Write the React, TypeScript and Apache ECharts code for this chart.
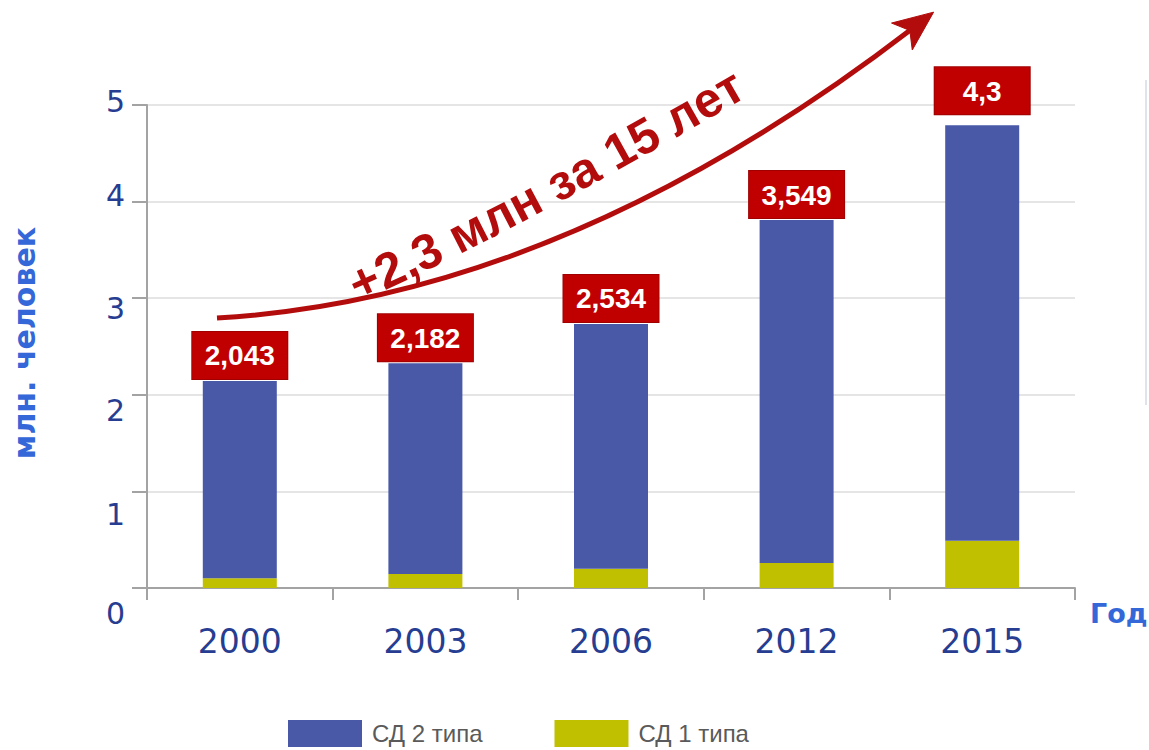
import React, { useEffect, useRef } from 'react';
import * as echarts from 'echarts';

// ---- data ----
const years = ['2000', '2003', '2006', '2012', '2015'];
const type2Values = [2.043, 2.182, 2.534, 3.549, 4.3];
const type1Values = [0.1, 0.145, 0.2, 0.26, 0.49];
const barLabels = ['2,043', '2,182', '2,534', '3,549', '4,3'];
const yTickValues = [0, 1, 2, 3, 4, 5];
const seriesNames = ['СД 2 типа', 'СД 1 типа'];
const annotationText = '+2,3 млн за 15 лет';
const yAxisTitle = 'млн. человек';
const xAxisTitle = 'Год';

// ---- styles ----
const BLUE = '#4959a8';
const YELLOW = '#c0bf00';
const RED = '#c00000';
const ARROW_RED = '#b30c0c';
const LABEL_NAVY = '#263d91';
const TITLE_BLUE = '#3467d8';
// vertical shift (px) of each y tick label relative to its tick, as in the picture
const yLabelShift: Record<number, number> = { 0: 25, 1: 23, 2: 16, 3: 10, 4: -6, 5: -4 };

type P = [number, number];
function qPoint(p0: P, c: P, p2: P, t: number): P {
  const u = 1 - t;
  return [u * u * p0[0] + 2 * u * t * c[0] + t * t * p2[0], u * u * p0[1] + 2 * u * t * c[1] + t * t * p2[1]];
}
function qDeriv(p0: P, c: P, p2: P, t: number): P {
  const u = 1 - t;
  return [2 * u * (c[0] - p0[0]) + 2 * t * (p2[0] - c[0]), 2 * u * (c[1] - p0[1]) + 2 * t * (p2[1] - c[1])];
}

function textOnCurve(text: string, p0: P, c: P, p2: P, color: string): any[] {
  const N = 600;
  const pts: P[] = [];
  const cum: number[] = [0];
  for (let i = 0; i <= N; i++) pts.push(qPoint(p0, c, p2, i / N));
  for (let i = 1; i <= N; i++) {
    cum.push(cum[i - 1] + Math.hypot(pts[i][0] - pts[i - 1][0], pts[i][1] - pts[i - 1][1]));
  }
  const L = cum[N];
  const family = '"Liberation Sans", Arial, sans-serif';
  const canvas = document.createElement('canvas');
  const ctx = canvas.getContext('2d')!;
  ctx.font = `bold 40px ${family}`;
  const chars = Array.from(text);
  const w40 = chars.map((ch) => ctx.measureText(ch).width);
  const total40 = w40.reduce((a, b) => a + b, 0) || 1;
  let fs = (40 * L) / total40;
  fs = Math.max(34, Math.min(50, fs));
  const k = fs / 40;
  const widths = w40.map((w) => w * k);
  const used = widths.reduce((a, b) => a + b, 0);
  let s = (L - used) / 2;
  const out: any[] = [];
  chars.forEach((ch, i) => {
    const mid = s + widths[i] / 2;
    s += widths[i];
    if (ch === ' ') return;
    let j = 0;
    while (j < N && cum[j + 1] < mid) j++;
    const t = Math.min(1, (j + (mid - cum[j]) / Math.max(1e-6, cum[j + 1] - cum[j])) / N);
    const pt = qPoint(p0, c, p2, t);
    const d = qDeriv(p0, c, p2, t);
    const len = Math.hypot(d[0], d[1]);
    const nx = d[1] / len;
    const ny = -d[0] / len;
    const off = 0.35 * fs;
    out.push({
      type: 'text',
      x: pt[0] + nx * off,
      y: pt[1] + ny * off,
      rotation: Math.atan2(-d[1], d[0]),
      style: {
        text: ch,
        fill: color,
        font: `bold ${fs.toFixed(1)}px ${family}`,
        align: 'center',
        verticalAlign: 'middle',
      },
      z: 20,
    });
  });
  return out;
}

export default function App() {
  const ref = useRef<HTMLDivElement>(null);

  useEffect(() => {
    if (!ref.current) return;
    const chart = echarts.init(ref.current, null, { renderer: 'svg' });

    // arrow geometry (decoration)
    const a0: P = [217, 318];
    const aC: P = [562, 298];
    const a2: P = [913, 28];
    const dir = [a2[0] - aC[0], a2[1] - aC[1]];
    const dl = Math.hypot(dir[0], dir[1]);
    const ux = dir[0] / dl;
    const uy = dir[1] / dl;
    const nx = -uy;
    const ny = ux;
    const tip: P = [a2[0] + ux * 26, a2[1] + uy * 26];
    const base: P = [tip[0] - ux * 40, tip[1] - uy * 40];
    const notch: P = [tip[0] - ux * 30, tip[1] - uy * 30];
    const wing1: P = [base[0] + nx * 17, base[1] + ny * 17];
    const wing2: P = [base[0] - nx * 17, base[1] - ny * 17];

    const rich: Record<string, any> = {};
    yTickValues.forEach((v) => {
      const d = yLabelShift[v] || 0;
      rich['v' + v] = {
        fontFamily: '"DejaVu Sans", Verdana, sans-serif',
        fontSize: 30,
        lineHeight: 32,
        color: LABEL_NAVY,
        padding: d >= 0 ? [2 * d, 0, 0, 0] : [0, 0, -2 * d, 0],
      };
    });

    const option: any = {
      animation: false,
      backgroundColor: '#ffffff',
      grid: { left: 147, right: 74, top: 105, bottom: 162, containLabel: false },
      legend: {
        data: seriesNames,
        left: 283,
        top: 715,
        icon: 'rect',
        itemWidth: 74,
        itemHeight: 27,
        itemGap: 72,
        selectedMode: false,
        textStyle: {
          fontFamily: '"Liberation Sans", Arial, sans-serif',
          fontSize: 24,
          lineHeight: 26,
          color: '#5a5a5a',
          padding: [0, 0, 0, 5],
        },
      },
      xAxis: {
        type: 'category',
        data: years,
        axisLine: { show: true, lineStyle: { color: '#a3a3a3', width: 2 } },
        axisTick: { show: true, alignWithLabel: false, length: 12, lineStyle: { color: '#a3a3a3', width: 2 } },
        axisLabel: {
          margin: 37,
          fontFamily: '"DejaVu Sans", Verdana, sans-serif',
          fontSize: 33,
          color: LABEL_NAVY,
        },
        splitLine: { show: false },
      },
      yAxis: {
        type: 'value',
        min: 0,
        max: 5,
        interval: 1,
        axisLine: { show: true, lineStyle: { color: '#a3a3a3', width: 2 } },
        axisTick: { show: true, inside: false, length: 15, lineStyle: { color: '#a3a3a3', width: 2 } },
        axisLabel: {
          margin: 22,
          fontSize: 30,
          formatter: (v: number) => `{v${v}|${v}}`,
          rich,
        },
        splitLine: { show: true, lineStyle: { color: '#dcdcdc', width: 1.5 } },
      },
      series: [
        {
          name: seriesNames[1],
          type: 'bar',
          stack: 'total',
          barWidth: 74,
          itemStyle: { color: YELLOW },
          data: type1Values,
        },
        {
          name: seriesNames[0],
          type: 'bar',
          stack: 'total',
          barWidth: 74,
          itemStyle: { color: BLUE },
          data: type2Values.map((v, i) => ({
            value: v,
            label: { distance: i === type2Values.length - 1 ? 11 : 2 },
          })),
          label: {
            show: true,
            position: 'top',
            formatter: (p: any) => barLabels[p.dataIndex],
            backgroundColor: RED,
            borderColor: '#a00000',
            borderWidth: 1,
            color: '#ffffff',
            fontFamily: '"Liberation Sans", Arial, sans-serif',
            fontWeight: 'bold',
            fontSize: 28,
            lineHeight: 30,
            width: 73,
            align: 'center',
            padding: [9, 11, 8, 11],
          },
        },
      ],
      graphic: [
        {
          type: 'text',
          x: 24,
          y: 343,
          rotation: Math.PI / 2,
          style: {
            text: yAxisTitle,
            fill: TITLE_BLUE,
            font: 'bold 30px "DejaVu Sans", Verdana, sans-serif',
            align: 'center',
            verticalAlign: 'middle',
          },
        },
        {
          type: 'text',
          x: 1090,
          y: 613,
          style: {
            text: xAxisTitle,
            fill: TITLE_BLUE,
            font: 'bold 27px "DejaVu Sans", Verdana, sans-serif',
            align: 'left',
            verticalAlign: 'middle',
          },
        },
        {
          type: 'line',
          shape: { x1: 1146, y1: 80, x2: 1146, y2: 405 },
          style: { stroke: '#dfe3ea', lineWidth: 2 },
        },
        {
          type: 'bezierCurve',
          shape: { x1: a0[0], y1: a0[1], x2: a2[0], y2: a2[1], cpx1: aC[0], cpy1: aC[1] },
          style: { stroke: ARROW_RED, lineWidth: 5, fill: null },
          z: 15,
        },
        {
          type: 'polygon',
          shape: { points: [tip, wing1, notch, wing2] },
          style: { fill: ARROW_RED, stroke: ARROW_RED, lineWidth: 1 },
          z: 15,
        },
        ...textOnCurve(annotationText, [358, 302], [500, 240], [748, 96], ARROW_RED),
      ],
    };

    chart.setOption(option);
    return () => chart.dispose();
  }, []);

  return (
    <div
      ref={ref}
      style={{ position: 'fixed', left: 0, top: 0, width: 1149, height: 750, background: '#fff' }}
    />
  );
}
